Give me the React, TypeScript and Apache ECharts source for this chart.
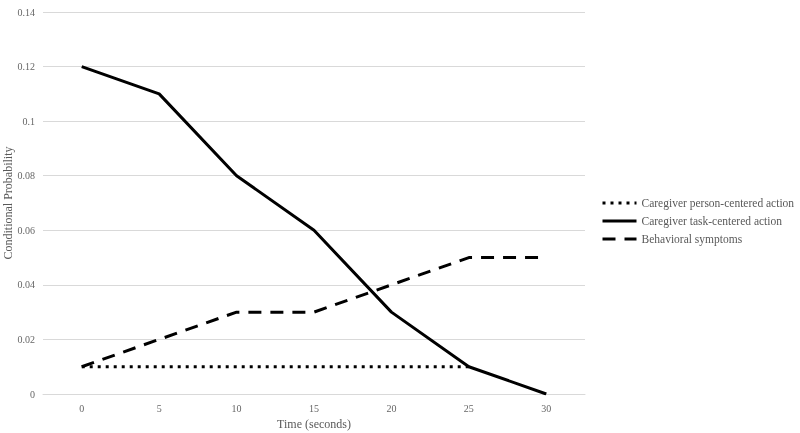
import React, { useEffect, useRef } from "react";
import * as echarts from "echarts";

const categories = ["0", "5", "10", "15", "20", "25", "30"];
const personCentered = [0.01, 0.01, 0.01, 0.01, 0.01, 0.01, null];
const taskCentered = [0.12, 0.11, 0.08, 0.06, 0.03, 0.01, 0];
const behavioral = [0.01, 0.02, 0.03, 0.03, 0.04, 0.05, 0.05];
const seriesNames = [
  "Caregiver person-centered action",
  "Caregiver task-centered action",
  "Behavioral symptoms",
];

const FONT = "Liberation Serif";
const GRAY = "#595959";

export default function App() {
  const ref = useRef<HTMLDivElement>(null);
  useEffect(() => {
    const chart = echarts.init(ref.current!, null, { renderer: "svg" });
    chart.setOption({
      animation: false,
      textStyle: { fontFamily: FONT },
      grid: {
        left: 43,
        right: 215,
        top: 12,
        bottom: 39,
        containLabel: false,
        outerBoundsMode: "none",
      },
      legend: {
        orient: "vertical",
        left: 601,
        top: 197,
        padding: 0,
        itemWidth: 34,
        itemHeight: 12,
        itemGap: 6,
        itemStyle: { opacity: 0 },
        lineStyle: { width: 3 },
        textStyle: { fontFamily: FONT, fontSize: 11.5, color: GRAY },
        data: seriesNames,
      },
      xAxis: {
        type: "category",
        data: categories,
        boundaryGap: true,
        name: "Time (seconds)",
        nameLocation: "middle",
        nameGap: 24,
        nameMoveOverlap: false,
        nameTextStyle: { fontFamily: FONT, fontSize: 12, color: GRAY },
        axisLine: { show: true, lineStyle: { color: "#d9d9d9" } },
        axisTick: { show: false },
        axisLabel: { fontFamily: FONT, fontSize: 10, color: "#666", margin: 9 },
      },
      yAxis: {
        type: "value",
        min: 0,
        max: 0.14,
        interval: 0.02,
        name: "Conditional Probability",
        nameLocation: "middle",
        nameGap: 29,
        nameMoveOverlap: false,
        nameTextStyle: { fontFamily: FONT, fontSize: 12, color: GRAY },
        axisLine: { show: false },
        axisTick: { show: false },
        axisLabel: {
          fontFamily: FONT,
          fontSize: 10,
          color: "#666",
          margin: 8,
          formatter: (v: number) => String(parseFloat(v.toFixed(2))),
        },
        splitLine: { lineStyle: { color: "#d9d9d9" } },
      },
      series: [
        {
          name: seriesNames[0],
          type: "line",
          data: personCentered,
          symbol: "none",
          lineStyle: { color: "#000", width: 3, type: [3, 5] },
          itemStyle: { color: "#000" },
        },
        {
          name: seriesNames[1],
          type: "line",
          data: taskCentered,
          symbol: "none",
          lineStyle: { color: "#000", width: 3, type: "solid" },
          itemStyle: { color: "#000" },
        },
        {
          name: seriesNames[2],
          type: "line",
          data: behavioral,
          symbol: "none",
          lineStyle: { color: "#000", width: 3, type: [13, 9] },
          itemStyle: { color: "#000" },
        },
      ],
    });
    return () => chart.dispose();
  }, []);
  return (
    <div
      ref={ref}
      style={{ position: "fixed", left: 0, top: 0, width: 800, height: 433 }}
    />
  );
}
